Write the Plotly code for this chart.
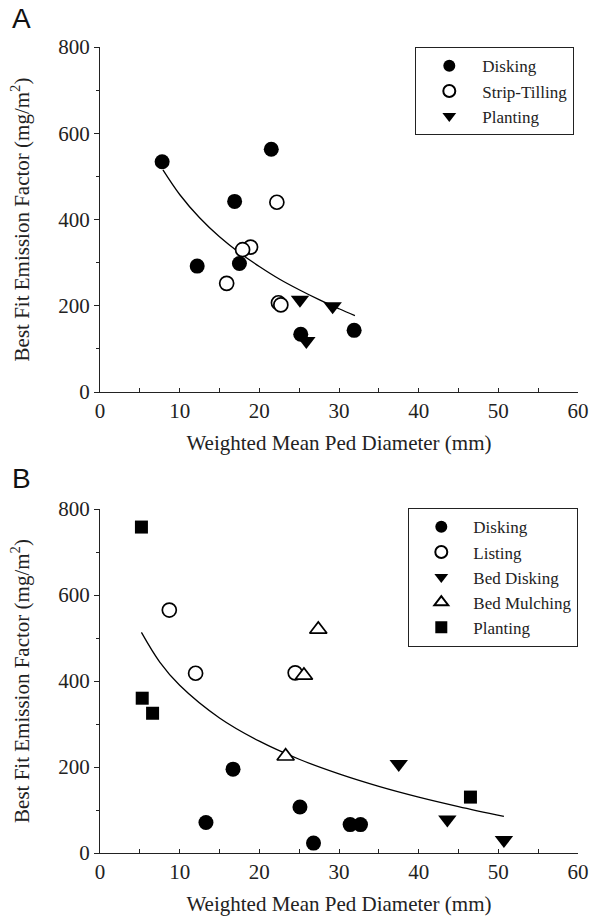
import plotly.graph_objects as go

# ---------------- Panel A data ----------------
a_disk_x = [7.8, 21.5, 16.9, 12.2, 17.5, 25.2, 31.9]
a_disk_y = [534, 563, 442, 292, 298, 134, 143]
a_strip_x = [22.2, 18.9, 17.9, 15.9, 22.4, 22.7]
a_strip_y = [440, 336, 330, 252, 207, 202]
a_plant_x = [25.1, 29.2, 25.9]
a_plant_y = [214, 199, 118]
a_fit_x = [7.9, 10, 12.5, 15, 17.5, 20, 22.5, 25, 27.5, 30, 32]
a_fit_y = [515, 458, 404, 360, 323, 291, 262, 237, 214, 193, 177]

# ---------------- Panel B data ----------------
b_disk_x = [16.7, 13.3, 25.1, 26.8, 31.4, 32.7]
b_disk_y = [195, 71, 107, 23, 66, 66]
b_list_x = [8.7, 12.0, 24.5]
b_list_y = [565, 418, 419]
b_beddisk_x = [37.5, 43.6, 50.7]
b_beddisk_y = [207, 78, 30]
b_bedmulch_x = [27.4, 25.6, 23.3]
b_bedmulch_y = [520, 413, 225]
b_plant_x = [5.2, 5.3, 6.6, 46.5]
b_plant_y = [758, 360, 325, 130]
b_fit_x = [5.2, 7.5, 10, 15, 20, 25, 30, 35, 40, 45, 50.7]
b_fit_y = [513, 444, 390, 314, 260, 218, 184, 155, 130, 108, 85]

x_ticks = [0, 10, 20, 30, 40, 50, 60]
y_ticks = [0, 200, 400, 600, 800]

SERIF = "Liberation Serif"
SANS = "Liberation Sans"
INK = "#222"

fig = go.Figure()

def add(x, y, name, symbol, filled, xa, ya, legend, size):
    fig.add_trace(go.Scatter(
        x=x, y=y, mode="markers", name=name,
        xaxis=xa, yaxis=ya, legend=legend, cliponaxis=False,
        marker=dict(symbol=symbol, size=size,
                    color="black" if filled else "white",
                    line=dict(color="black", width=0 if filled else 1.7)),
    ))

def fit(x, y, xa, ya):
    fig.add_trace(go.Scatter(
        x=x, y=y, mode="lines", line=dict(color="black", width=1.3, shape="spline"),
        xaxis=xa, yaxis=ya, showlegend=False, hoverinfo="skip"))

fit(a_fit_x, a_fit_y, "x", "y")
add(a_disk_x, a_disk_y, "Disking", "circle", True, "x", "y", "legend", 15)
add(a_strip_x, a_strip_y, "Strip-Tilling", "circle", False, "x", "y", "legend", 14)
add(a_plant_x, a_plant_y, "Planting", "triangle-down", True, "x", "y", "legend", 16)

fit(b_fit_x, b_fit_y, "x2", "y2")
add(b_disk_x, b_disk_y, "Disking", "circle", True, "x2", "y2", "legend2", 15)
add(b_list_x, b_list_y, "Listing", "circle", False, "x2", "y2", "legend2", 14)
add(b_beddisk_x, b_beddisk_y, "Bed Disking", "triangle-down", True, "x2", "y2", "legend2", 16)
add(b_bedmulch_x, b_bedmulch_y, "Bed Mulching", "triangle-up", False, "x2", "y2", "legend2", 15)
add(b_plant_x, b_plant_y, "Planting", "square", True, "x2", "y2", "legend2", 13)

L, R, T, B = 100, 26, 47, 68
H = 921 - T - B
W = 604 - L - R
domA = [(853 - 392) / H, 1.0]
domB = [0.0, (853 - 509) / H]

xax = dict(range=[0, 60], tickvals=x_ticks, showline=True, linecolor=INK, linewidth=1.3,
           ticks="inside", ticklen=4, tickcolor=INK, showgrid=False, zeroline=False,
           minor=dict(dtick=5, tick0=0, ticks="inside", ticklen=4, tickcolor=INK),
           tickfont=dict(family=SERIF, size=21, color=INK),
           title=dict(text="Weighted Mean Ped Diameter (mm)",
                      font=dict(family=SERIF, size=21, color=INK), standoff=12))
yax = dict(range=[0, 800], tickvals=y_ticks, showline=True, linecolor=INK, linewidth=1.3,
           ticks="outside", ticklen=5, tickcolor=INK, showgrid=False, zeroline=False,
           minor=dict(dtick=100, tick0=0, ticks="outside", ticklen=3, tickcolor=INK),
           tickfont=dict(family=SERIF, size=21, color=INK),
           title=dict(text="Best Fit Emission Factor (mg/m<sup>2</sup>)",
                      font=dict(family=SERIF, size=21, color=INK), standoff=22))

legfont = dict(family=SERIF, size=17, color=INK)
legcommon = dict(xanchor="right", yanchor="top", font=legfont,
                 bordercolor=INK, borderwidth=1.3, bgcolor="white",
                 tracegroupgap=0, itemsizing="constant")

ann = []
for lab, px, py in [("A", 21, 19), ("B", 21, 479)]:
    ann.append(dict(text=lab, x=(px - L) / W, y=(921 - B - py) / H,
                    xref="paper", yref="paper", showarrow=False,
                    xanchor="center", yanchor="middle",
                    font=dict(family=SANS, size=28, color="#111")))

fig.update_layout(
    width=604, height=921,
    margin=dict(l=L, r=R, t=T, b=B, autoexpand=False),
    paper_bgcolor="white", plot_bgcolor="white",
    xaxis=dict(xax, domain=[0, 1], anchor="y"),
    yaxis=dict(yax, domain=domA, anchor="x"),
    xaxis2=dict(xax, domain=[0, 1], anchor="y2"),
    yaxis2=dict(yax, domain=domB, anchor="x2"),
    legend=dict(legcommon, x=(574 - L) / W, y=1.0, itemwidth=56),
    legend2=dict(legcommon, x=1.0, y=(853 - 508) / H, itemwidth=54),
    annotations=ann,
)

fig.write_html("out.html", config={"displayModeBar": False},
               post_script="document.body.style.margin='0';")
